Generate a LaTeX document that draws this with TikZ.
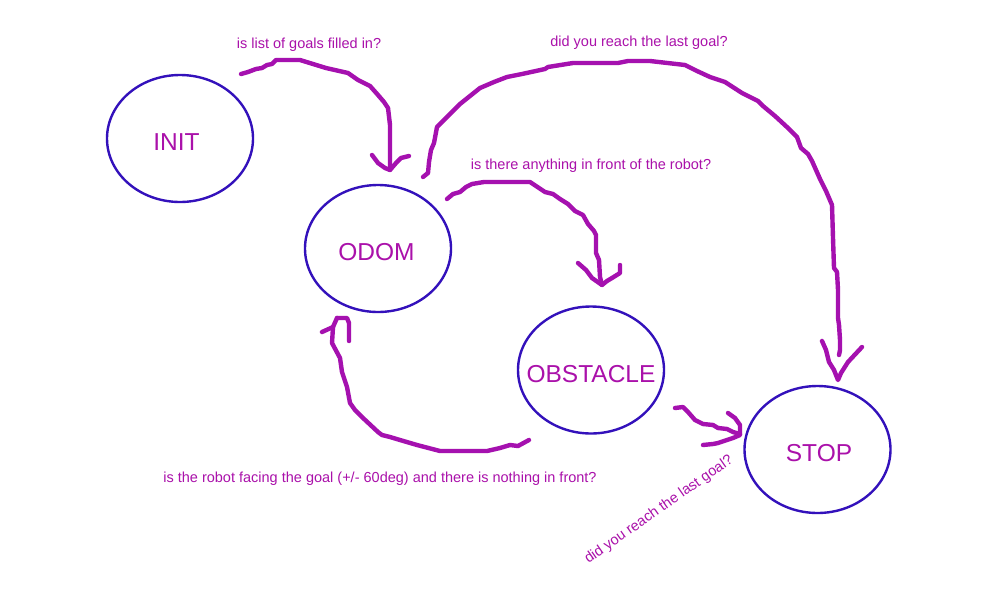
\documentclass[tikz,border=0pt]{standalone}
\usepackage{fontspec}
\setmainfont{Liberation Sans}
\usetikzlibrary{shapes.geometric}
\definecolor{txtc}{RGB}{170,17,170}
\definecolor{arrc}{RGB}{165,17,175}
\definecolor{ellc}{RGB}{51,17,187}
\newcommand{\stx}[2]{\makebox[0pt]{\hspace*{#1}\raisebox{0pt}[\dimexpr\height+7pt\relax][0pt]{#2}}}
\begin{document}
\begin{tikzpicture}[x=1pt,y=-1pt,
  statebox/.style={ellipse, draw=ellc, line width=2.4pt, inner sep=0pt,
    minimum width=146pt, minimum height=127pt, text=txtc, font=\fontsize{24.5}{28}\selectfont},
  lbl/.style={text=txtc, font=\fontsize{14.5}{17}\selectfont, inner sep=0pt},
  hand/.style={draw=arrc, line width=4.4pt, line cap=round, line join=round}]
\useasboundingbox (0,0) rectangle (1000,600);
\fill[white] (0,0) rectangle (1000,600);

% states
\node[statebox] (init) at (180,138.5) {\stx{-7pt}{INIT}};
\node[statebox] (odom) at (378,248.5) {\stx{-3pt}{ODOM}};
\node[statebox] (obst) at (591,370) {\stx{0pt}{OBSTACLE}};
\node[statebox] (stop) at (817.5,449.5) {\stx{3pt}{STOP}};

% labels
\node[lbl] (l1) at (309,45) {is list of goals filled in?};
\node[lbl] (l2) at (639,43) {did you reach the last goal?};
\node[lbl] (l3) at (591,166) {is there anything in front of the robot?};
\node[lbl] (l4) at (380,479) {is the robot facing the goal (+/- 60deg) and there is nothing in front?};
\node[lbl, rotate=35] (l5) at (659,510) {did you reach the last goal?};

% connector end points
\coordinate (a1s) at (241,74);   \coordinate (a1e) at (390,170);
\coordinate (a2s) at (423,177);  \coordinate (a2e) at (838,380);
\coordinate (a3s) at (447,199);  \coordinate (a3e) at (602,285);
\coordinate (a4s) at (529,440);  \coordinate (a4e) at (337,318);
\coordinate (a5s) at (675,408);  \coordinate (a5e) at (740,434);

% INIT -> ODOM
\draw[hand] (a1s) -- (248,72) -- (256,69) -- (262,68) -- (267,65) -- (272,64) -- (276,60) -- (300,60)
  -- (326,68) -- (348,73) -- (358,80) -- (370,86) -- (378,95) -- (384,102) -- (388,108) -- (390,125) -- (a1e);
\draw[hand] (372,155) -- (378,163) -- (385,168) -- (a1e) -- (396,163) -- (401,158) -- (409,156);

% ODOM -> STOP (big arc)
\draw[hand] (a2s) -- (428,173) -- (429,162) -- (431,150) -- (434,143) -- (437,127) -- (449,115) -- (460,104)
  -- (470,96) -- (480,88) -- (494,82) -- (507,77) -- (517,75) -- (522,74) -- (545,69) -- (548,67)
  -- (573,63) -- (618,63) -- (628,61) -- (650,61) -- (685,65) -- (697,71) -- (710,77) -- (725,82)
  -- (742,93) -- (748,96) -- (758,101) -- (763,106) -- (775,116) -- (788,128) -- (797,137) -- (801,148)
  -- (808,154) -- (812,161) -- (820,179) -- (826,191) -- (832,205) -- (833,238) -- (834,268) -- (837,272)
  -- (838,290) -- (838,318) -- (839,325) -- (840,340) -- (840,350) -- (839,355);
\draw[hand] (822,341) -- (826,350) -- (829,362) -- (834,370) -- (a2e) -- (841,373) -- (848,362) -- (862,347);

% ODOM -> OBSTACLE
\draw[hand] (a3s) -- (453,194) -- (460,192) -- (466,187) -- (472,184) -- (484,182) -- (530,182) -- (545,192)
  -- (553,194) -- (560,199) -- (568,204) -- (575,211) -- (583,215) -- (588,224) -- (594,231) -- (596,235)
  -- (596,253) -- (599,260) -- (600,277) -- (a3e);
\draw[hand] (578,263) -- (586,270) -- (592,278) -- (a3e) -- (607,281) -- (612,278) -- (620,273) -- (620,265);

% OBSTACLE -> ODOM
\draw[hand] (a4s) -- (518,446) -- (510,445) -- (500,448) -- (487,451) -- (440,451) -- (417,445) -- (400,440)
  -- (390,437) -- (382,435) -- (378,432) -- (363,418) -- (355,410) -- (350,403) -- (347,387) -- (342,372)
  -- (340,358) -- (332,343) -- (333,327) -- (a4e);
\draw[hand] (322,332) -- (333,327);
\draw[hand] (a4e) -- (347,318) -- (349,323) -- (349,341);

% OBSTACLE -> STOP
\draw[hand] (a5s) -- (683,407) -- (688,412) -- (695,420) -- (703,424) -- (713,425) -- (718,428) -- (727,429)
  -- (733,432) -- (a5e);
\draw[hand] (728,413) -- (735,418) -- (740,425) -- (740,435) -- (733,438) -- (718,443) -- (713,444) -- (703,445);
\end{tikzpicture}
\end{document}
